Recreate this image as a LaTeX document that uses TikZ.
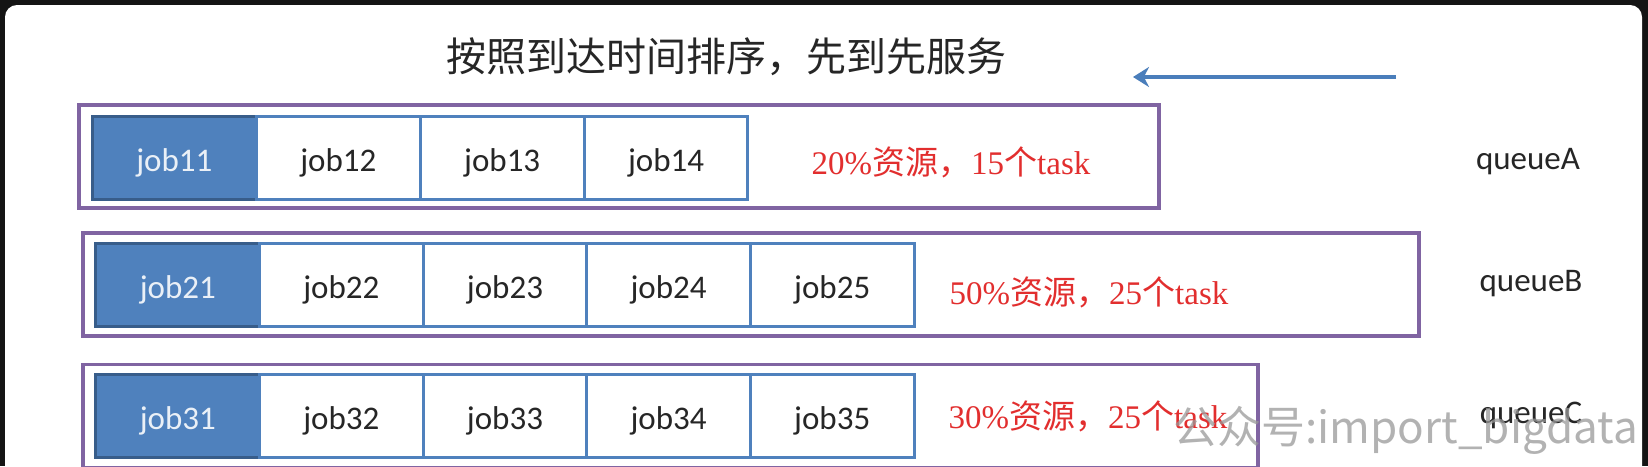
\documentclass[tikz,border=0pt]{standalone}
\usepackage{fontspec}
\setmainfont{Carlito}
\newfontfamily\cjk{Noto Sans CJK SC}
\newfontfamily\rmlat{Liberation Serif}
\usetikzlibrary{arrows.meta}
\definecolor{qpurple}{RGB}{128,100,162}
\definecolor{jblue}{RGB}{79,129,189}
\definecolor{jdark}{RGB}{56,93,138}
\definecolor{tred}{RGB}{226,46,46}
\definecolor{framecol}{RGB}{20,20,20}
\definecolor{arrowblue}{RGB}{74,126,187}
\newcommand{\restxt}[2]{{\rmlat #1}{\cjk 资源，}{\rmlat #2}{\cjk 个}{\rmlat task}}
\begin{document}
\begin{tikzpicture}[x=1pt,y=-1pt,
  queuebox/.style={draw=qpurple, line width=3.5pt, fill=white, inner sep=0pt},
  jobbox/.style={draw=jblue, line width=3pt, fill=white, minimum width=163.7pt,
    minimum height=83pt, inner sep=0pt, text height=26pt, text depth=0pt,
    font=\fontsize{33}{40}\selectfont, text=black!85},
  headjob/.style={jobbox, fill=jblue, draw=jdark, text=white!88!jblue},
  restext/.style={text=tred, font=\fontsize{33}{40}\selectfont},
  qlabel/.style={font=\fontsize{33}{40}\selectfont, text=black!85},
  titletext/.style={font=\fontsize{40}{46}\cjk, text=black!85},
  watermark/.style={font=\fontsize{44}{50}\cjk, text=black!40, opacity=0.75, anchor=west},
  flowarrow/.style={draw=arrowblue, line width=3.5pt, -{Stealth[length=16pt,width=20pt]}}
]
\useasboundingbox (0,0) rectangle (1648,466);
\fill[framecol] (0,0) rectangle (1648,466);
\fill[white, rounded corners=12pt] (5,5) rectangle (1642,500);

% title and arrow
\node[titletext] (title) at (726,57) {按照到达时间排序，先到先服务};
\coordinate (arrs) at (1396,77);
\coordinate (arre) at (1133,77);
\draw[flowarrow] (arrs) -- (arre);

% queue frames
\node[queuebox, minimum width=1080pt, minimum height=103pt] (qa) at (619,156.5) {};
\node[queuebox, minimum width=1336pt, minimum height=103pt] (qb) at (751,284.5) {};
\node[queuebox, minimum width=1175pt, minimum height=103pt] (qc) at (670.5,416) {};

% queue A jobs
\node[headjob] (j11) at (174.4,158) {job11};
\node[jobbox] (j12) at (338.3,158) {job12};
\node[jobbox] (j13) at (502.2,158) {job13};
\node[jobbox] (j14) at (666.1,158) {job14};

% queue B jobs
\node[headjob] (j21) at (177.8,285) {job21};
\node[jobbox] (j22) at (341.4,285) {job22};
\node[jobbox] (j23) at (505.0,285) {job23};
\node[jobbox] (j24) at (668.6,285) {job24};
\node[jobbox] (j25) at (832.2,285) {job25};

% queue C jobs
\node[headjob] (j31) at (177.8,416) {job31};
\node[jobbox] (j32) at (341.4,416) {job32};
\node[jobbox] (j33) at (505.0,416) {job33};
\node[jobbox] (j34) at (668.6,416) {job34};
\node[jobbox] (j35) at (832.2,416) {job35};

% resource texts
\node[restext] (ra) at (951,162) {\restxt{20\%}{15}};
\node[restext] (rb) at (1089,292) {\restxt{50\%}{25}};
\node[restext] (rc) at (1088,416) {\restxt{30\%}{25}};

% queue labels
\node[qlabel] (la) at (1528,162) {queueA};
\node[qlabel] (lb) at (1531,284) {queueB};
\node[qlabel] (lc) at (1531,415) {queueC};

% watermark
\node[watermark] (wm) at (1170,430) {公众号:import\_bigdata};
\end{tikzpicture}
\end{document}
